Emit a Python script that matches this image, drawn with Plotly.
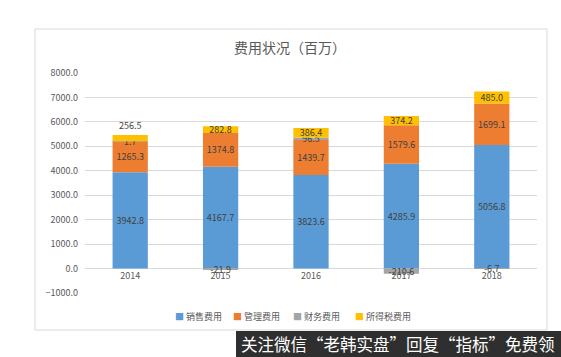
import plotly.graph_objects as go

years = ["2014", "2015", "2016", "2017", "2018"]
sales = [3942.8, 4167.7, 3823.6, 4285.9, 5056.8]
admin = [1265.3, 1374.8, 1439.7, 1579.6, 1699.1]
finance = [1.7, -21.9, 96.5, -210.6, -6.7]
tax = [256.5, 282.8, 386.4, 374.2, 485.0]
names = ["销售费用", "管理费用", "财务费用", "所得税费用"]
colors = ["#5B9BD5", "#ED7D31", "#A5A5A5", "#FFC000"]
tick_vals = [-1000, 0, 1000, 2000, 3000, 4000, 5000, 6000, 7000, 8000]

font = "Noto Sans CJK SC, Noto Sans, sans-serif"
fig = go.Figure()
series = [sales, admin, finance, tax]
for i, (nm, vals, col) in enumerate(zip(names, series, colors)):
    pos = "inside"
    if i == 3:
        pos = ["outside", "inside", "inside", "inside", "inside"]
    fig.add_trace(go.Bar(
        x=years, y=vals, name=nm, marker=dict(color=col, line=dict(width=0)),
        text=[f"{v:.1f}" for v in vals], textposition=pos, textangle=0,
        constraintext="none", cliponaxis=False,
        insidetextanchor="middle",
        textfont=dict(size=9, color="#404040", family=font),
        outsidetextfont=dict(size=9, color="#404040", family=font),
        showlegend=False,
    ))

fig.update_layout(
    barmode="relative", bargap=0.61,
    width=561, height=357,
    margin=dict(l=85, r=24, t=73, b=64, autoexpand=False),
    paper_bgcolor="white", plot_bgcolor="white",
    title=dict(text="费用状况（百万）", x=0.517, xanchor="center", y=0.865, yanchor="middle",
               font=dict(size=14, color="#595959", family=font)),
    yaxis=dict(range=[-1000, 8000], tickvals=tick_vals, tickformat=".1f",
               showgrid=True, gridcolor="#D9D9D9", gridwidth=1, zeroline=True,
               zerolinecolor="#D9D9D9", zerolinewidth=1, showline=False,
               tickfont=dict(size=9, color="#595959", family=font), ticks="",
               ticklabelstandoff=6),
    xaxis=dict(anchor="free", position=1000 / 9000, showline=False, ticks="",
               tickfont=dict(size=9, color="#595959", family=font), showgrid=False),
    showlegend=False,
)

# legend built as annotations (small square markers like the reference)
legend_x = [177, 235, 295, 357]
for nm, col, lx in zip(names, colors, legend_x):
    fig.add_annotation(
        text=f"<span style='color:{col}'>■</span> {nm}", xref="paper", yref="paper",
        x=(lx - 4 - 85) / 452, y=(293 - 316) / 220, xanchor="left", yanchor="middle",
        showarrow=False, font=dict(size=9, color="#595959", family=font))

# outer chart frame
fig.add_shape(type="rect", xref="paper", yref="paper",
              x0=(35 - 85) / 452, x1=(547 - 85) / 452,
              y0=(293 - 330) / 220, y1=(293 - 29) / 220,
              line=dict(color="#D9D9D9", width=1), fillcolor="rgba(0,0,0,0)", layer="below")

# watermark banner
fig.add_shape(type="rect", xref="paper", yref="paper",
              x0=(236 - 85) / 452, x1=(561 - 85) / 452,
              y0=(293 - 357) / 220, y1=(293 - 331) / 220,
              line=dict(width=0), fillcolor="#2F2F2F", layer="above")
fig.add_annotation(text="关注微信“老韩实盘”回复“指标”免费领", xref="paper", yref="paper",
                   x=(398 - 85) / 452, y=(293 - 344) / 220, xanchor="center", yanchor="middle",
                   showarrow=False, font=dict(size=16.5, color="white", family=font))

fig.write_html("out.html", config={"displayModeBar": False},
               post_script="document.body.style.margin='0';document.body.style.overflow='hidden';")
